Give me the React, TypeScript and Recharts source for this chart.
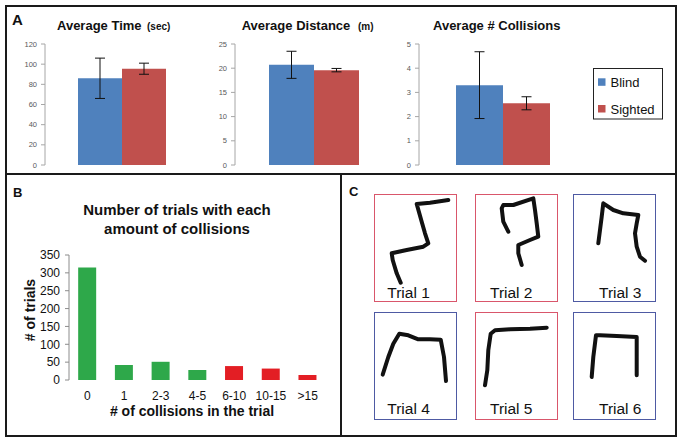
import React from 'react';
import { BarChart, Bar, XAxis, YAxis, ErrorBar, LineChart, Line, Cell } from 'recharts';

const FONT = '"Liberation Sans", Arial, Helvetica, sans-serif';

// ---------- Panel A data ----------
const groupNames = ['Blind', 'Sighted'];
const groupColors = ['#4F81BD', '#C0504D'];

const timeMeans = [86, 95.5];
const timeErrors = [20, 5.5];
const timeTicks = [0, 20, 40, 60, 80, 100, 120];

const distanceMeans = [20.7, 19.6];
const distanceErrors = [2.8, 0.35];
const distanceTicks = [0, 5, 10, 15, 20, 25];

const collisionMeans = [3.3, 2.55];
const collisionErrors = [1.38, 0.27];
const collisionTicks = [0, 1, 2, 3, 4, 5];

// ---------- Panel B data ----------
const collisionBins = ['0', '1', '2-3', '4-5', '6-10', '10-15', '>15'];
const trialCounts = [315, 42, 51, 28, 39, 32, 14];
const binIsHigh = [false, false, false, false, true, true, true];
const countTicks = [0, 50, 100, 150, 200, 250, 300, 350];
const binEdges = [0, 1, 2, 3, 4, 5, 6, 7];

// ---------- Panel C data (trajectory points inside each frame) ----------
const trialNames = ['Trial 1', 'Trial 2', 'Trial 3', 'Trial 4', 'Trial 5', 'Trial 6'];
const trialFrame = ['red', 'red', 'blue', 'blue', 'red', 'blue'];
const trial1X = [74.3, 56, 42.7, 47.7, 51, 54.3, 49.3, 32.7, 17.7, 18.7, 22.7, 26.7];
const trial1Y = [6, 8.7, 10, 27.7, 39.3, 49.3, 52.7, 56, 59.3, 66, 79.3, 88.7];
const trial2X = [33.3, 28.3, 26.7, 28.3, 38.3, 58.3, 60, 61.7, 63.3, 55, 43.3, 43.3, 46.7];
const trial2Y = [37.7, 27.7, 14.3, 11, 11, 4.3, 16, 29.3, 42.7, 46, 51, 59.3, 71];
const trial3X = [25.3, 27, 28.7, 30.3, 40.3, 50.3, 65.3, 63.7, 62, 63.7, 67, 72];
const trial3Y = [49.3, 36, 22.7, 9.3, 16, 19.3, 21, 29.3, 39.3, 52.7, 62.7, 66.7];
const trial4X = [8.7, 14.3, 19.3, 25.3, 34.3, 44.3, 56, 66.7, 70, 72];
const trial4Y = [62.7, 45, 31.7, 21.7, 23.3, 27.3, 27.3, 27.7, 45, 69];
const trial5X = [10, 12.3, 13.3, 15.7, 20, 35, 55, 71.7];
const trial5Y = [73.3, 58.3, 38.3, 21.7, 18.3, 17.3, 16.7, 15.7];
const trial6X = [18.7, 20.3, 23, 27, 43.7, 63.7, 63.7, 63.7];
const trial6Y = [65, 45, 23.3, 23.3, 24, 25, 45, 63.3];

const trialXs = [trial1X, trial2X, trial3X, trial4X, trial5X, trial6X];
const trialYs = [trial1Y, trial2Y, trial3Y, trial4Y, trial5Y, trial6Y];

// ---------- layout ----------
const FRAME_W = 83;
const FRAME_H = 108;
const frameCols = [374, 475, 573];
const frameRows = [194, 312];
const labelDx = [13.3, 15, 26];
const labelBaseline = [298.3, 413.7];
const frameColors: Record<string, string> = { red: '#D9566B', blue: '#4E5AA3' };

function AvgChart(props: {
  means: number[];
  errors: number[];
  ticks: number[];
  left: number;
  width: number;
  barSize: number;
}) {
  const { means, errors, ticks, left, width, barSize } = props;
  const data = [
    {
      name: 'all',
      blind: means[0],
      blindErr: errors[0],
      sighted: means[1],
      sightedErr: errors[1],
    },
  ];
  return (
    <div style={{ position: 'absolute', left, top: 34 }}>
      <BarChart
        width={width}
        height={141}
        data={data}
        margin={{ top: 10, right: 0, bottom: 10, left: 0 }}
        barGap={0}
        barSize={barSize}
      >
        <XAxis dataKey="name" hide />
        <YAxis
          width={40}
          domain={[0, ticks[ticks.length - 1]]}
          ticks={ticks}
          interval={0}
          allowDataOverflow
          tickSize={4}
          tickMargin={4}
          tick={{ fontSize: 7.5, fill: '#595959', fontFamily: FONT }}
          axisLine={{ stroke: '#A6A6A6' }}
          tickLine={{ stroke: '#A6A6A6' }}
        />
        <Bar dataKey="blind" name={groupNames[0]} fill={groupColors[0]} isAnimationActive={false}>
          <ErrorBar dataKey="blindErr" width={5} stroke="#111" strokeWidth={1} direction="y" />
        </Bar>
        <Bar dataKey="sighted" name={groupNames[1]} fill={groupColors[1]} isAnimationActive={false}>
          <ErrorBar dataKey="sightedErr" width={5} stroke="#111" strokeWidth={1} direction="y" />
        </Bar>
      </BarChart>
    </div>
  );
}

function Histogram() {
  const data = collisionBins.map((bin, i) => ({ bin, count: trialCounts[i] }));
  return (
    <div style={{ position: 'absolute', left: 19, top: 245 }}>
      <BarChart
        width={307}
        height={165}
        data={data}
        margin={{ top: 10, right: 0, bottom: 0, left: 0 }}
        barCategoryGap="25%"
      >
        <XAxis
          xAxisId={0}
          type="number"
          domain={[0, 7]}
          ticks={binEdges}
          allowDataOverflow
          tick={false}
          tickSize={4}
          height={0}
          axisLine={{ stroke: '#8C8C8C' }}
          tickLine={{ stroke: '#8C8C8C' }}
        />
        <XAxis
          xAxisId="cat"
          dataKey="bin"
          type="category"
          height={30}
          interval={0}
          tickSize={0}
          tickMargin={11}
          axisLine={false}
          tickLine={false}
          tick={{ fontSize: 12, fill: '#111', fontFamily: FONT }}
        />
        <YAxis
          width={50}
          domain={[0, 350]}
          ticks={countTicks}
          interval={0}
          allowDataOverflow
          tickSize={4}
          tickMargin={5}
          tick={{ fontSize: 12, fill: '#111', fontFamily: FONT }}
          axisLine={{ stroke: '#8C8C8C' }}
          tickLine={{ stroke: '#8C8C8C' }}
        />
        <Bar xAxisId="cat" dataKey="count" isAnimationActive={false}>
          {data.map((d, i) => (
            <Cell key={d.bin} fill={binIsHigh[i] ? '#E31E24' : '#2EA84A'} />
          ))}
        </Bar>
      </BarChart>
    </div>
  );
}

function TrialFrame({ index }: { index: number }) {
  const col = index % 3;
  const row = Math.floor(index / 3);
  const left = frameCols[col];
  const top = frameRows[row];
  const pts = trialXs[index].map((x, i) => ({ x, y: trialYs[index][i] }));
  return (
    <>
      <div
        style={{
          position: 'absolute',
          left,
          top,
          width: FRAME_W,
          height: FRAME_H,
          boxSizing: 'border-box',
          border: `1.5px solid ${frameColors[trialFrame[index]]}`,
        }}
      />
      <div style={{ position: 'absolute', left, top }}>
        <LineChart width={FRAME_W} height={FRAME_H} data={pts} margin={{ top: 0, right: 0, bottom: 0, left: 0 }}>
          <XAxis type="number" dataKey="x" domain={[0, FRAME_W]} allowDataOverflow hide />
          <YAxis type="number" domain={[0, FRAME_H]} allowDataOverflow reversed hide />
          <Line
            dataKey="y"
            type="linear"
            stroke="#111"
            strokeWidth={4}
            strokeLinejoin="round"
            strokeLinecap="round"
            dot={false}
            isAnimationActive={false}
          />
        </LineChart>
      </div>
    </>
  );
}

export default function App() {
  const bold = { fontFamily: FONT, fontWeight: 700 as const };
  return (
    <div
      style={{
        position: 'absolute',
        left: 0,
        top: 0,
        width: 683,
        height: 445,
        background: '#fff',
        fontFamily: FONT,
      }}
    >
      <AvgChart means={timeMeans} errors={timeErrors} ticks={timeTicks} left={5} width={194} barSize={44} />
      <AvgChart means={distanceMeans} errors={distanceErrors} ticks={distanceTicks} left={195} width={197} barSize={45} />
      <AvgChart means={collisionMeans} errors={collisionErrors} ticks={collisionTicks} left={379} width={207} barSize={47} />
      <Histogram />
      {trialNames.map((_, i) => (
        <TrialFrame key={i} index={i} />
      ))}

      {/* borders */}
      <div style={{ position: 'absolute', left: 5, top: 5, width: 672, height: 432, boxSizing: 'border-box', border: '2px solid #1a1a1a' }} />
      <div style={{ position: 'absolute', left: 5, top: 173, width: 672, height: 2, background: '#1a1a1a' }} />
      <div style={{ position: 'absolute', left: 340, top: 173, width: 2, height: 264, background: '#1a1a1a' }} />

      <svg width={683} height={445} style={{ position: 'absolute', left: 0, top: 0, pointerEvents: 'none' }}>
        {/* panel letters */}
        <text x={12} y={25} fontSize={15} style={bold} fill="#111">A</text>
        <text x={13} y={196.7} fontSize={13} style={bold} fill="#111">B</text>
        <text x={349} y={195.7} fontSize={13} style={bold} fill="#111">C</text>

        {/* panel A titles */}
        <text x={57} y={30} fontSize={13} style={bold} fill="#111">Average Time</text>
        <text x={147} y={30} fontSize={10} style={bold} fill="#111">(sec)</text>
        <text x={241.7} y={30} fontSize={13} style={bold} fill="#111">Average Distance</text>
        <text x={358} y={30} fontSize={10} style={bold} fill="#111">(m)</text>
        <text x={433} y={30} fontSize={13} style={bold} fill="#111">Average # Collisions</text>

        {/* legend */}
        <rect x={593.5} y={68.5} width={69} height={50.5} fill="#fff" stroke="#222" strokeWidth={1} />
        <rect x={598} y={78.3} width={7.5} height={7.5} fill={groupColors[0]} />
        <text x={610.5} y={87} fontSize={13} fill="#111" fontFamily={FONT}>{groupNames[0]}</text>
        <rect x={598} y={105} width={7.5} height={7.5} fill={groupColors[1]} />
        <text x={610.5} y={113.5} fontSize={13} fill="#111" fontFamily={FONT}>{groupNames[1]}</text>

        {/* panel B titles */}
        <text x={177} y={215} fontSize={15} textAnchor="middle" style={bold} fill="#111">Number of trials with each</text>
        <text x={177} y={234} fontSize={15} textAnchor="middle" style={bold} fill="#111">amount of collisions</text>
        <text x={192} y={416} fontSize={14} textAnchor="middle" style={bold} fill="#111"># of collisions in the trial</text>
        <text x={0} y={0} fontSize={14} textAnchor="middle" style={bold} fill="#111" transform="translate(35,310) rotate(-90)"># of trials</text>

        {/* panel C trial labels */}
        {trialNames.map((name, i) => (
          <text
            key={name}
            x={frameCols[i % 3] + labelDx[i % 3]}
            y={labelBaseline[Math.floor(i / 3)]}
            fontSize={15.5}
            fill="#111"
            fontFamily={FONT}
          >
            {name}
          </text>
        ))}
      </svg>
    </div>
  );
}
